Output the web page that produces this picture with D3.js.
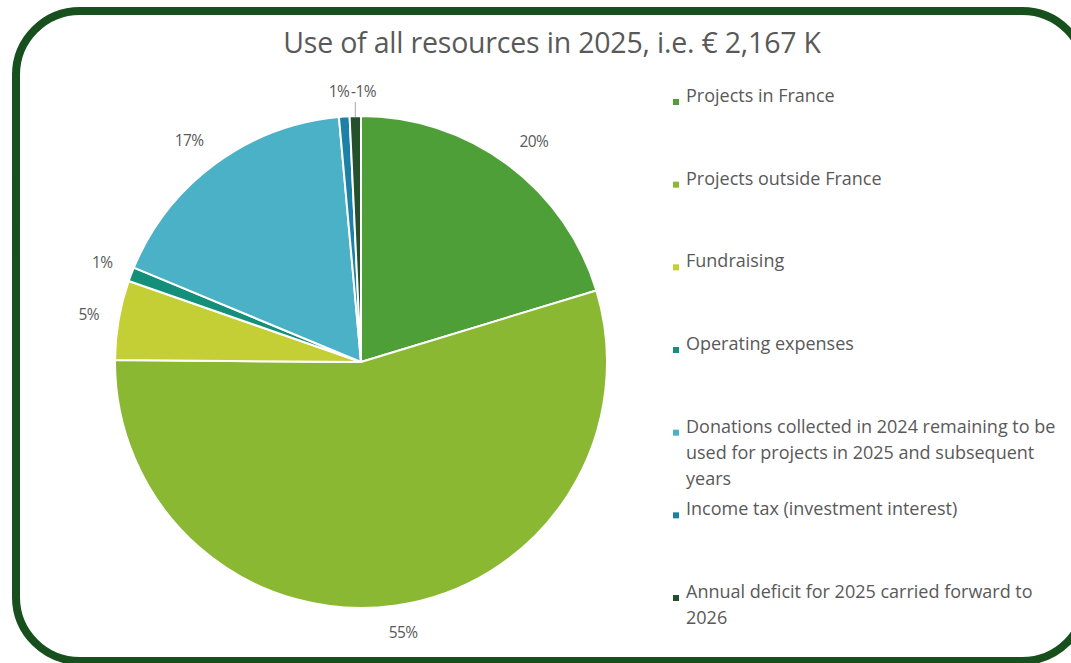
<!DOCTYPE html>
<html>
<head>
<meta charset="utf-8">
<title>Use of all resources in 2025</title>
<script src="https://d3js.org/d3.v7.min.js"></script>
<style>
  body { margin: 0; background: #fff; }
  svg text { font-family: "Open Sans", Lato, sans-serif; fill: #595959; }
</style>
</head>
<body>
<svg id="chart" width="1071" height="663"></svg>
<script>
// values in K euros, deficit kept negative as in the source table
const categories = [
  "Projects in France",
  "Projects outside France",
  "Fundraising",
  "Operating expenses",
  "Donations collected in 2024 remaining to be used for projects in 2025 and subsequent years",
  "Income tax (investment interest)",
  "Annual deficit for 2025 carried forward to 2026"
];
const amounts = [440, 1188, 113, 20, 375, 15, -16];
const colors = ["#4f9f39", "#8ab833", "#c4cf35", "#14907a", "#4bb1c7", "#1d80a6", "#24502b"];
const title = "Use of all resources in 2025, i.e. € 2,167 K";

const svg = d3.select('#chart');

// frame
svg.append('rect')
  .attr('x', 16).attr('y', 11)
  .attr('width', 1070).attr('height', 650)
  .attr('rx', 64).attr('ry', 64)
  .attr('fill', '#fff')
  .attr('stroke', '#174f1d')
  .attr('stroke-width', 8);

svg.append('text')
  .attr('x', 552).attr('y', 53)
  .attr('text-anchor', 'middle')
  .style('font-size', '28.5px')
  .style('letter-spacing', '-0.2px')
  .text(title);

const total = d3.sum(amounts, d => Math.abs(d));
const pct = d => (d < 0 ? '-' : '') + Math.round(Math.abs(d) / total * 100) + '%';

const cx = 361, cy = 362, radius = 246;
const pie = d3.pie().value(d => Math.abs(d)).sort(null);
const arcs = pie(amounts);
const arc = d3.arc().innerRadius(0).outerRadius(radius);

const g = svg.append('g').attr('transform', `translate(${cx},${cy})`);

g.selectAll('path')
  .data(arcs)
  .enter()
  .append('path')
  .attr('d', arc)
  .attr('fill', (d, i) => colors[i])
  .attr('stroke', '#fff')
  .attr('stroke-width', 2)
  .attr('stroke-linejoin', 'round');

// leader line for the deficit label
const midAngle = d => (d.startAngle + d.endAngle) / 2;
const midX = Math.sin(midAngle(arcs[6])) * radius;
g.append('line')
  .attr('x1', midX).attr('y1', -radius + 1)
  .attr('x2', midX).attr('y2', -260)
  .attr('stroke', '#a6a6a6')
  .attr('stroke-width', 1);

// outside-end labels: box pushed off the rim in the slice direction
const labelR = 266;
const clamp = v => Math.max(-1, Math.min(1, v * 2));
const labels = g.selectAll('text.pct')
  .data(arcs)
  .enter()
  .append('text')
  .attr('class', 'pct')
  .attr('text-anchor', 'middle')
  .attr('dy', '0.35em')
  .style('font-size', '15.5px')
  .style('letter-spacing', '-0.6px')
  .text(d => pct(d.data));

// the two thin slices at the top sit side by side above the pie
const topShift = { 5: -3, 6: 9 };
labels.each(function (d, i) {
  const a = midAngle(d);
  const ux = Math.sin(a), uy = -Math.cos(a);
  const w = this.getComputedTextLength(), h = 14;
  let x = labelR * ux + w / 2 * clamp(ux);
  let y = labelR * uy + h / 2 * clamp(uy);
  if (i in topShift) {
    x = (radius + 34) * ux + topShift[i];
    y = -270;
  }
  d3.select(this).attr('x', x).attr('y', y);
});

// legend
const legendY = d3.scalePoint()
  .domain(d3.range(categories.length))
  .range([102, 598]);
const maxWidth = 385;
const lineHeight = 26;

const legend = svg.append('g');
categories.forEach((name, i) => {
  const y = legendY(i);
  legend.append('rect')
    .attr('x', 673).attr('y', y - 3)
    .attr('width', 6).attr('height', 6)
    .attr('fill', colors[i]);

  const t = legend.append('text')
    .attr('x', 686).attr('y', y)
    .attr('dy', '0.35em')
    .style('font-size', '18px');

  // simple word wrap
  const words = name.split(' ');
  let line = [];
  let tspan = t.append('tspan').attr('x', 686).attr('dy', 0);
  words.forEach(w => {
    line.push(w);
    tspan.text(line.join(' '));
    if (tspan.node().getComputedTextLength() > maxWidth && line.length > 1) {
      line.pop();
      tspan.text(line.join(' '));
      line = [w];
      tspan = t.append('tspan').attr('x', 686).attr('dy', lineHeight).text(w);
    }
  });
});
</script>
</body>
</html>
